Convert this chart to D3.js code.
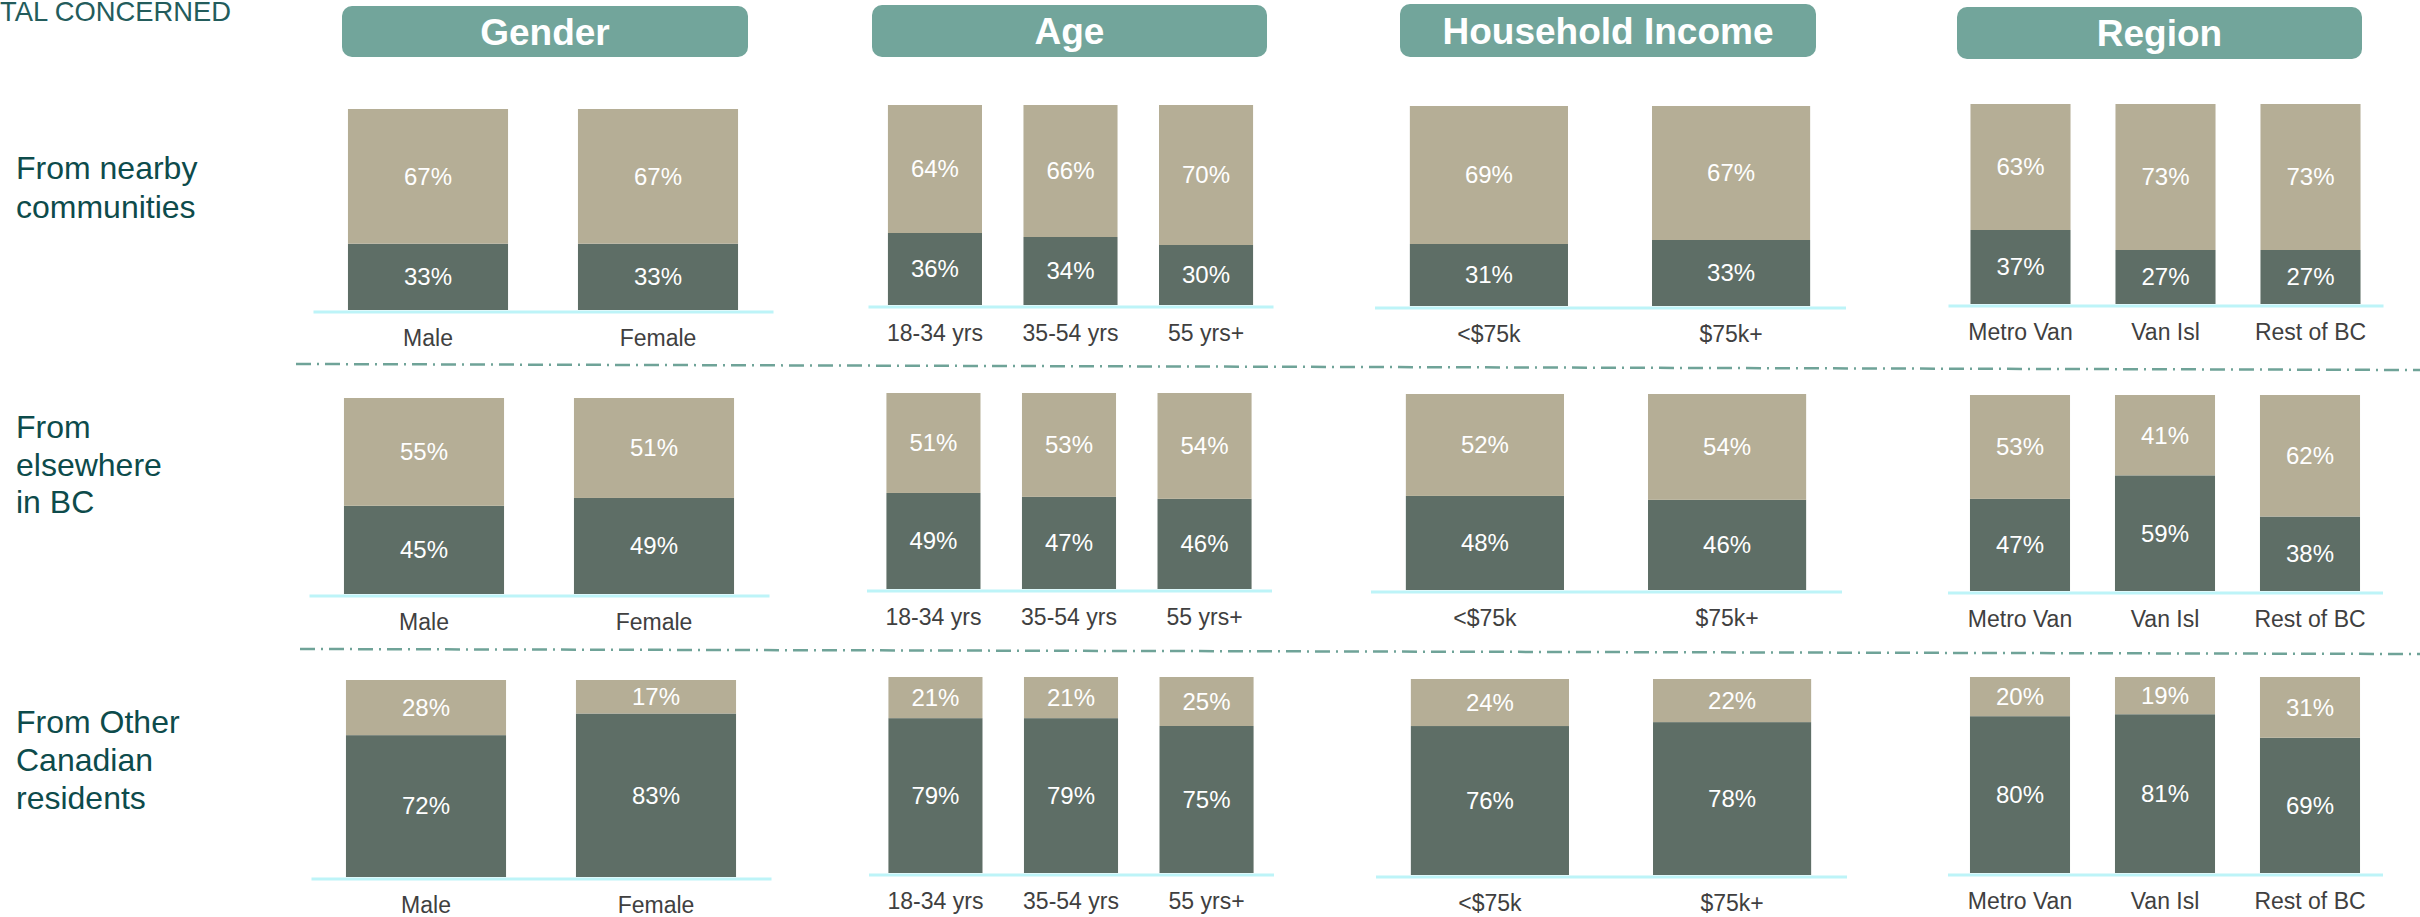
<!DOCTYPE html>
<html>
<head>
<meta charset="utf-8">
<script src="https://cdn.jsdelivr.net/npm/d3@7"></script>
<style>
  body { margin: 0; background: #fff; }
  svg { display: block; font-family: "Liberation Sans", Arial, sans-serif; }
</style>
</head>
<body>
<div id="chart"></div>
<script>
// categories
const panelTitles = ["Gender", "Age", "Household Income", "Region"];
const genderCats = ["Male", "Female"];
const ageCats = ["18-34 yrs", "35-54 yrs", "55 yrs+"];
const incomeCats = ["<$75k", "$75k+"];
const regionCats = ["Metro Van", "Van Isl", "Rest of BC"];
const panelCats = [genderCats, ageCats, incomeCats, regionCats];

// row labels
const rowLabels = [
  ["From nearby", "communities"],
  ["From", "elsewhere", "in BC"],
  ["From Other", "Canadian", "residents"]
];

// values (% per panel, per category): dark = bottom segment, tan = top segment
const nearbyDark = [[33, 33], [36, 34, 30], [31, 33], [37, 27, 27]];
const nearbyTan  = [[67, 67], [64, 66, 70], [69, 67], [63, 73, 73]];
const bcDark     = [[45, 49], [49, 47, 46], [48, 46], [47, 59, 38]];
const bcTan      = [[55, 51], [51, 53, 54], [52, 54], [53, 41, 62]];
const canDark    = [[72, 83], [79, 79, 75], [76, 78], [80, 81, 69]];
const canTan     = [[28, 17], [21, 21, 25], [24, 22], [20, 19, 31]];

const rowsData = [
  { dark: nearbyDark, tan: nearbyTan },
  { dark: bcDark, tan: bcTan },
  { dark: canDark, tan: canTan }
];

// layout
const width = 2420, height = 917;
const colors = { dark: "#5e6e66", tan: "#b5ae96" };
const panelLayout = [
  { x0: 313,  x1: 773,  pi: 0.304, po: 0.152, head: [342, 748, 6, 57] },
  { x0: 868,  x1: 1273, pi: 0.306, po: 0.147, head: [872, 1267, 5, 57] },
  { x0: 1374.5, x1: 1845.5, pi: 0.347, po: 0.146, head: [1400, 1816, 4, 57] },
  { x0: 1948, x1: 2383, pi: 0.31,  po: 0.155, head: [1957, 2362, 7, 59] }
];
// [top, base, dx] for each panel, row
const frames = [
  [[109, 310, 0], [398, 594, -4], [680, 877, -2]],
  [[105, 305, 0], [393, 589, -1.5], [677, 873, 0.5]],
  [[106, 306, 0], [394, 590, -4], [679, 875, 1]],
  [[104, 304, 0], [395, 591, -0.5], [677, 873, -0.5]]
];
const rowLabelY = [[168, 207], [427, 465, 502], [722, 760, 798]];

const svg = d3.select("#chart").append("svg")
  .attr("width", width)
  .attr("height", height);

svg.append("rect").attr("width", width).attr("height", height).attr("fill", "#fff");

// title, cut off at the top left as in the source slide
svg.append("text")
  .attr("x", 0)
  .attr("y", 21)
  .attr("font-size", 28)
  .attr("fill", "#235c5c")
  .attr("textLength", 231)
  .attr("lengthAdjust", "spacingAndGlyphs")
  .text("TAL CONCERNED");

// dash-dot separators
const separators = [[296, 364, 2420, 370], [300, 649, 2420, 654]];
svg.selectAll(".sep")
  .data(separators)
  .enter().append("line")
  .attr("class", "sep")
  .attr("x1", d => d[0]).attr("y1", d => d[1])
  .attr("x2", d => d[2]).attr("y2", d => d[3])
  .attr("stroke", "#6fa398")
  .attr("stroke-width", 2.5)
  .attr("stroke-dasharray", "15,6,2,6");

// panel headers
panelTitles.forEach((title, p) => {
  const h = panelLayout[p].head;
  svg.append("rect")
    .attr("x", h[0]).attr("y", h[2])
    .attr("width", h[1] - h[0]).attr("height", h[3] - h[2])
    .attr("rx", 10).attr("ry", 10)
    .attr("fill", "#72a59b");
  svg.append("text")
    .attr("x", (h[0] + h[1]) / 2)
    .attr("y", (h[2] + h[3]) / 2 + 13)
    .attr("text-anchor", "middle")
    .attr("font-size", 37)
    .attr("font-weight", "bold")
    .attr("fill", "#fff")
    .text(title);
});

// row labels
rowLabels.forEach((lines, r) => {
  svg.append("g").selectAll("text")
    .data(lines)
    .enter().append("text")
    .attr("x", 16)
    .attr("y", (d, i) => rowLabelY[r][i])
    .attr("dy", "0.35em")
    .attr("font-size", 32)
    .attr("fill", "#0d4b4b")
    .text(d => d);
});

// stacked bars per row and panel
rowsData.forEach((row, r) => {
  panelCats.forEach((cats, p) => {
    const lay = panelLayout[p];
    const [top, base, dx] = frames[p][r];

    const x = d3.scaleBand()
      .domain(cats)
      .range([lay.x0 + dx, lay.x1 + dx])
      .paddingInner(lay.pi)
      .paddingOuter(lay.po);

    const y = d3.scaleLinear()
      .domain([0, 100])
      .range([base, top]);

    const table = cats.map((c, i) => ({ cat: c, dark: row.dark[p][i], tan: row.tan[p][i] }));
    const stacked = d3.stack().keys(["dark", "tan"])(table);

    const g = svg.append("g");

    const layers = g.selectAll(".layer")
      .data(stacked)
      .enter().append("g")
      .attr("fill", d => colors[d.key]);

    layers.selectAll("rect")
      .data(d => d)
      .enter().append("rect")
      .attr("x", d => x(d.data.cat))
      .attr("y", d => y(d[1]))
      .attr("width", x.bandwidth())
      .attr("height", d => y(d[0]) - y(d[1]));

    layers.selectAll("text")
      .data(d => d)
      .enter().append("text")
      .attr("x", d => x(d.data.cat) + x.bandwidth() / 2)
      .attr("y", d => y((d[0] + d[1]) / 2))
      .attr("dy", "0.35em")
      .attr("text-anchor", "middle")
      .attr("font-size", 24)
      .attr("fill", "#fff")
      .text(d => (d[1] - d[0]) + "%");

    // category axis with light baseline
    const axis = g.append("g")
      .attr("transform", "translate(0," + (base + 1.5) + ")")
      .call(d3.axisBottom(x).tickSize(0).tickSizeOuter(0));
    axis.select(".domain")
      .attr("stroke", "#bdf4f8")
      .attr("stroke-width", 3);
    axis.selectAll(".tick text")
      .attr("y", 26)
      .attr("dy", "0.35em")
      .attr("font-size", 23)
      .attr("font-family", "\"Liberation Sans\", Arial, sans-serif")
      .attr("fill", "#404040");
  });
});
</script>
</body>
</html>
